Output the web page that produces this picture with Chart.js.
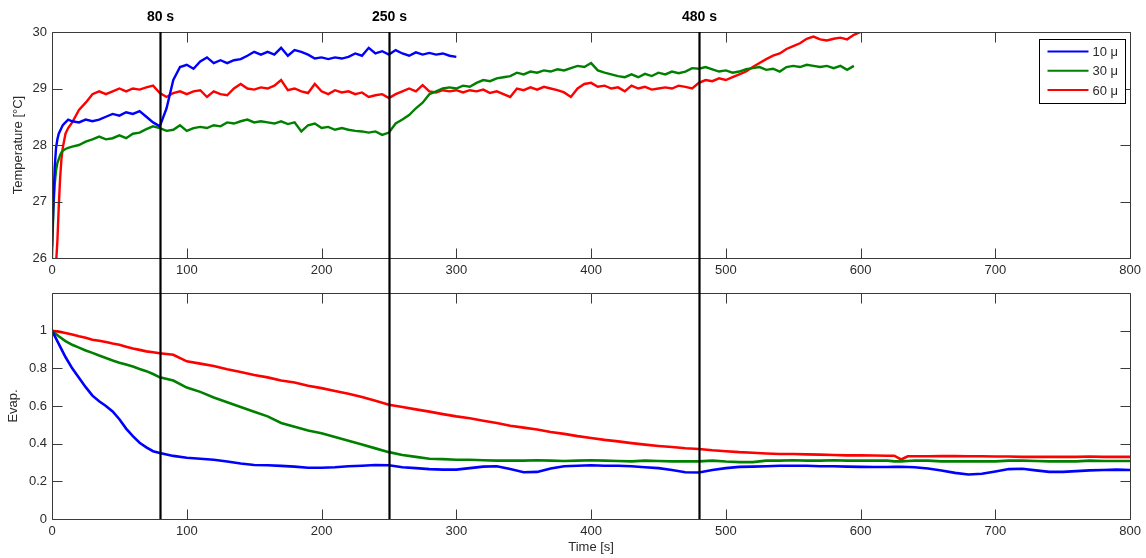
<!DOCTYPE html>
<html>
<head>
<meta charset="utf-8">
<script src="https://cdn.jsdelivr.net/npm/chart.js@4.4.1/dist/chart.umd.min.js"></script>
<style>
html,body{margin:0;padding:0;background:#fff;}
#wrap{position:relative;width:1146px;height:558px;background:#fff;}
canvas{position:absolute;left:0;}
#c1{top:0;}
#c2{top:292px;}
</style>
</head>
<body>
<div id="wrap">
<canvas id="c1" width="1146" height="292"></canvas>
<canvas id="c2" width="1146" height="266"></canvas>
</div>
<script>
// ---------- data ----------
const SERIES = ['10 \u03bc', '30 \u03bc', '60 \u03bc'];
const COLORS = ['#0000ff', '#008000', '#ff0000'];
const MARKERS = [80, 250, 480];
const MARKER_LABELS = ['80 s', '250 s', '480 s'];
const X_TICKS = [0, 100, 200, 300, 400, 500, 600, 700, 800];
const TEMP_TICKS = [26, 27, 28, 29, 30];
const EVAP_TICKS = [0, 0.2, 0.4, 0.6, 0.8, 1];

const TEMP_TIME = [0,1,2,3,4,5,6,7,8,10,12,15,
  20,25,30,35,40,45,50,55,60,65,70,75,80,85,90,95,100,105,110,115,
  120,125,130,135,140,145,150,155,160,165,170,175,180,185,190,195,200,205,210,215,
  220,225,230,235,240,245,250,255,260,265,270,275,280,285,290,295,300,305,310,315,
  320,325,330,335,340,345,350,355,360,365,370,375,380,385,390,395,400,405,410,415,
  420,425,430,435,440,445,450,455,460,465,470,475,480,485,490,495,500,505,510,515,
  520,525,530,535,540,545,550,555,560,565,570,575,580,585,590,595,600];

const TEMP_10 = [26.2,26.9,27.6,27.95,28.1,28.2,28.25,28.3,28.35,28.4,28.45,28.42,
  28.4,28.45,28.42,28.45,28.5,28.55,28.52,28.58,28.55,28.6,
  28.5,28.4,28.33,28.65,29.15,29.38,29.42,29.35,29.48,29.55,
  29.45,29.5,29.45,29.5,29.52,29.58,29.65,29.6,29.65,29.6,
  29.72,29.58,29.68,29.65,29.6,29.53,29.55,29.52,29.55,29.53,
  29.56,29.62,29.58,29.72,29.62,29.66,29.6,29.68,29.62,29.58,
  29.64,29.6,29.63,29.6,29.62,29.58,29.56];

const TEMP_30 = [26.0,26.85,27.3,27.55,27.68,27.75,27.82,27.87,27.9,27.93,27.95,27.97,
  28.0,28.06,28.1,28.15,28.1,28.12,28.17,28.12,28.2,28.22,
  28.28,28.33,28.3,28.25,28.27,28.35,28.25,28.3,28.32,28.3,
  28.35,28.33,28.4,28.38,28.42,28.45,28.4,28.42,28.4,28.38,
  28.42,28.37,28.4,28.24,28.35,28.38,28.3,28.32,28.27,28.3,
  28.27,28.25,28.24,28.22,28.24,28.18,28.22,28.38,28.45,28.53,
  28.65,28.75,28.9,28.95,29.0,29.02,29.0,29.05,29.03,29.1,
  29.15,29.13,29.18,29.2,29.22,29.28,29.25,29.3,29.28,29.32,
  29.3,29.34,29.32,29.36,29.4,29.38,29.45,29.32,29.28,29.25,
  29.22,29.2,29.25,29.2,29.26,29.22,29.28,29.25,29.3,29.27,
  29.3,29.36,29.35,29.38,29.34,29.3,29.32,29.28,29.3,29.34,
  29.36,29.38,29.33,29.35,29.3,29.38,29.4,29.38,29.42,29.4,
  29.38,29.4,29.36,29.4,29.33,29.4];

const TEMP_60 = [25.5,25.6,25.75,25.9,26.3,26.9,27.4,27.75,27.95,28.2,28.3,28.4,
  28.62,28.75,28.9,28.95,28.9,28.95,29.0,28.95,29.0,28.98,
  29.02,29.05,28.92,28.85,28.92,28.95,28.9,28.95,28.97,28.85,
  28.95,28.9,28.88,29.0,29.08,29.0,28.98,29.02,29.0,29.05,
  29.15,28.97,29.0,28.95,28.92,29.08,28.95,28.9,28.97,28.93,
  28.95,28.9,28.93,28.85,28.88,28.9,28.83,28.9,28.95,29.0,
  28.95,29.06,28.95,28.93,28.97,28.95,28.97,28.93,28.97,28.95,
  28.98,28.92,28.95,28.9,28.85,29.0,28.97,29.02,28.98,29.03,
  29.0,28.97,28.93,28.85,29.0,29.08,29.1,29.03,29.05,29.0,
  29.02,28.95,29.05,29.0,29.03,28.98,29.0,29.02,29.0,29.05,
  29.03,29.0,29.1,29.15,29.13,29.18,29.15,29.2,29.25,29.3,
  29.38,29.45,29.52,29.58,29.62,29.7,29.75,29.8,29.88,29.92,
  29.87,29.85,29.88,29.9,29.87,29.95,30.0];

const EVAP_TIME = [0,5,10,15,20,25,30,35,40,45,50,55,60,65,70,75,80,
  90,100,110,120,130,140,150,160,170,180,
  190,200,210,220,230,240,250,260,270,280,
  290,300,310,320,330,340,350,360,370,380,
  390,400,410,420,430,440,450,460,470,480,
  490,500,510,520,530,540,550,560,570,580,
  590,600,610,620,625,630,635,
  640,650,660,670,680,690,700,710,720,730,740,750,760,770,780,790,800];

const EVAP_10 = [1.0,0.93,0.86,0.8,0.75,0.7,0.655,0.625,0.6,0.571,0.53,0.48,0.44,0.405,0.38,0.36,0.35,
  0.335,0.325,0.32,0.315,0.305,0.295,0.287,0.285,0.282,0.278,
  0.272,0.272,0.275,0.28,0.283,0.287,0.285,0.275,0.27,0.265,
  0.262,0.262,0.27,0.278,0.28,0.265,0.248,0.25,0.268,0.28,
  0.283,0.285,0.283,0.283,0.28,0.275,0.27,0.26,0.248,0.247,
  0.26,0.27,0.277,0.278,0.28,0.283,0.283,0.283,0.28,0.28,
  0.278,0.277,0.276,0.276,0.277,0.277,0.276,
  0.275,0.268,0.258,0.245,0.236,0.24,0.252,0.265,0.267,0.258,0.25,0.25,0.254,0.258,0.26,0.262,0.26];

const EVAP_30 = [1.0,0.97,0.945,0.925,0.91,0.895,0.882,0.868,0.855,0.842,0.83,0.82,0.81,0.797,0.785,0.77,0.752,
  0.735,0.698,0.675,0.645,0.62,0.595,0.57,0.545,0.51,0.49,
  0.47,0.455,0.435,0.415,0.395,0.375,0.355,0.34,0.33,0.32,
  0.318,0.315,0.315,0.312,0.31,0.31,0.31,0.312,0.31,0.308,
  0.31,0.312,0.31,0.308,0.306,0.31,0.308,0.306,0.306,0.306,
  0.31,0.305,0.302,0.302,0.31,0.31,0.312,0.31,0.31,0.312,
  0.31,0.31,0.31,0.31,0.306,0.306,0.308,
  0.31,0.31,0.306,0.306,0.306,0.306,0.306,0.31,0.31,0.308,0.306,0.306,0.306,0.31,0.308,0.308,0.308];

const EVAP_60 = [1.0,0.995,0.988,0.98,0.97,0.962,0.952,0.946,0.94,0.932,0.925,0.915,0.905,0.898,0.89,0.885,0.88,
  0.872,0.837,0.825,0.812,0.795,0.78,0.765,0.752,0.735,0.725,
  0.708,0.695,0.68,0.665,0.648,0.628,0.607,0.595,0.582,0.57,
  0.557,0.545,0.535,0.522,0.51,0.495,0.485,0.475,0.462,0.452,
  0.44,0.43,0.42,0.412,0.403,0.395,0.388,0.382,0.376,0.372,
  0.365,0.36,0.355,0.352,0.348,0.345,0.345,0.343,0.342,0.34,
  0.338,0.338,0.337,0.336,0.336,0.316,0.333,
  0.333,0.333,0.334,0.334,0.333,0.333,0.332,0.332,0.33,0.33,0.33,0.33,0.33,0.332,0.33,0.33,0.33];

// ---------- helpers ----------
const FONT = 'Liberation Sans, Arial, sans-serif';
const TXT = '#2b2b2b';
const AXC = '#3a3a3a';
function pts(times, vals) { return vals.map((v, i) => ({x: times[i], y: v})); }

const frame = {
  id: 'frame',
  afterDatasetsDraw(chart) {
    const {ctx, chartArea: {left, right, top, bottom}, scales: {x, y}} = chart;
    ctx.save();
    ctx.strokeStyle = AXC; ctx.lineWidth = 1;
    const L = Math.round(left) + 0.5, R = Math.round(right) + 0.5;
    const T = Math.round(top) + 0.5, B = Math.round(bottom) + 0.5;
    ctx.beginPath(); ctx.rect(L, T, R - L, B - T); ctx.stroke();
    const tl = 10;
    ctx.beginPath();
    x.ticks.forEach(t => {
      const px = Math.round(x.getPixelForValue(t.value)) + 0.5;
      ctx.moveTo(px, B); ctx.lineTo(px, B - tl);
      ctx.moveTo(px, T); ctx.lineTo(px, T + tl);
    });
    y.ticks.forEach(t => {
      const py = Math.round(y.getPixelForValue(t.value)) + 0.5;
      ctx.moveTo(L, py); ctx.lineTo(L + tl, py);
      ctx.moveTo(R, py); ctx.lineTo(R - tl, py);
    });
    ctx.stroke();
    ctx.restore();
  }
};

function markerPlugin(isTop) {
  return {
    id: 'markers',
    afterDatasetsDraw(chart) {
      const {ctx, chartArea: {top, bottom}, scales: {x}} = chart;
      ctx.save();
      ctx.strokeStyle = '#000'; ctx.lineWidth = 2.2;
      MARKERS.forEach((m, i) => {
        const px = Math.round(x.getPixelForValue(m)) + 0.5;
        ctx.beginPath();
        if (isTop) { ctx.moveTo(px, top); ctx.lineTo(px, chart.height); }
        else { ctx.moveTo(px, 0); ctx.lineTo(px, bottom); }
        ctx.stroke();
        if (isTop) {
          ctx.fillStyle = '#000';
          ctx.font = 'bold 14px ' + FONT;
          ctx.textAlign = 'center'; ctx.textBaseline = 'middle';
          ctx.fillText(MARKER_LABELS[i], px, 17);
        }
      });
      ctx.restore();
    }
  };
}

const legendBox = {
  id: 'legendBox',
  afterDraw(chart) {
    const {ctx, chartArea: {right, top}} = chart;
    const w = 86, h = 64;
    const x0 = Math.round(right) - 5 - w + 0.5, y0 = Math.round(top) + 7 + 0.5;
    ctx.save();
    ctx.fillStyle = '#fff'; ctx.fillRect(x0, y0, w, h);
    ctx.strokeStyle = '#000'; ctx.lineWidth = 1; ctx.strokeRect(x0, y0, w, h);
    ctx.font = '13px ' + FONT; ctx.textAlign = 'left'; ctx.textBaseline = 'middle';
    chart.data.datasets.forEach((ds, i) => {
      const yy = y0 + 12 + i * 19.3;
      ctx.strokeStyle = ds.borderColor; ctx.lineWidth = 2;
      ctx.beginPath(); ctx.moveTo(x0 + 8, yy); ctx.lineTo(x0 + 49, yy); ctx.stroke();
      ctx.fillStyle = TXT; ctx.fillText(ds.label, x0 + 53, yy + 1);
    });
    ctx.restore();
  }
};

function xScale(height, withTitle) {
  return {
    type: 'linear', min: 0, max: 800,
    afterBuildTicks: s => { s.ticks = X_TICKS.map(v => ({value: v})); },
    afterFit: s => { s.height = height; },
    grid: {display: false, drawTicks: false},
    border: {display: false},
    ticks: {color: TXT, font: {family: FONT, size: 13}, padding: 5, maxRotation: 0},
    title: withTitle ? {display: true, text: 'Time [s]', color: TXT, font: {family: FONT, size: 13}, padding: {top: 0, bottom: 3}} : {display: false}
  };
}

function yScale(min, max, ticks, title, titlePad) {
  return {
    type: 'linear', min: min, max: max,
    afterBuildTicks: s => { s.ticks = ticks.map(v => ({value: v})); },
    afterFit: s => { s.width = 52; s.paddingTop = 0; s.paddingBottom = 0; },
    grid: {display: false, drawTicks: false},
    border: {display: false},
    ticks: {color: TXT, font: {family: FONT, size: 13}, padding: 5,
            callback: v => String(+(+v).toFixed(2))},
    title: {display: true, text: title, color: TXT, font: {family: FONT, size: 13}, padding: {top: titlePad, bottom: 0}}
  };
}

function ds(label, color, data, width) {
  return {label, data, borderColor: color, backgroundColor: color, borderWidth: width,
          pointRadius: 0, tension: 0, fill: false, spanGaps: false};
}

const common = {
  responsive: false, animation: false, devicePixelRatio: 1,
  plugins: {legend: {display: false}, tooltip: {enabled: false}},
  events: []
};

new Chart(document.getElementById('c1'), {
  type: 'line',
  data: {datasets: [
    ds(SERIES[0], COLORS[0], pts(TEMP_TIME, TEMP_10), 2.4),
    ds(SERIES[1], COLORS[1], pts(TEMP_TIME, TEMP_30), 2.4),
    ds(SERIES[2], COLORS[2], pts(TEMP_TIME, TEMP_60), 2.4)
  ]},
  options: Object.assign({}, common, {
    layout: {padding: {top: 32, right: 14, left: 0, bottom: 0}},
    scales: {x: xScale(34, false), y: yScale(26, 30, TEMP_TICKS, 'Temperature [\u00b0C]', 11)}
  }),
  plugins: [frame, markerPlugin(true), legendBox]
});

new Chart(document.getElementById('c2'), {
  type: 'line',
  data: {datasets: [
    ds(SERIES[0], COLORS[0], pts(EVAP_TIME, EVAP_10), 2.6),
    ds(SERIES[1], COLORS[1], pts(EVAP_TIME, EVAP_30), 2.6),
    ds(SERIES[2], COLORS[2], pts(EVAP_TIME, EVAP_60), 2.6)
  ]},
  options: Object.assign({}, common, {
    layout: {padding: {top: 1, right: 14, left: 0, bottom: 0}},
    scales: {x: xScale(39, true), y: yScale(0, 1.2, EVAP_TICKS, 'Evap.', 6)}
  }),
  plugins: [frame, markerPlugin(false)]
});
</script>
</body>
</html>
